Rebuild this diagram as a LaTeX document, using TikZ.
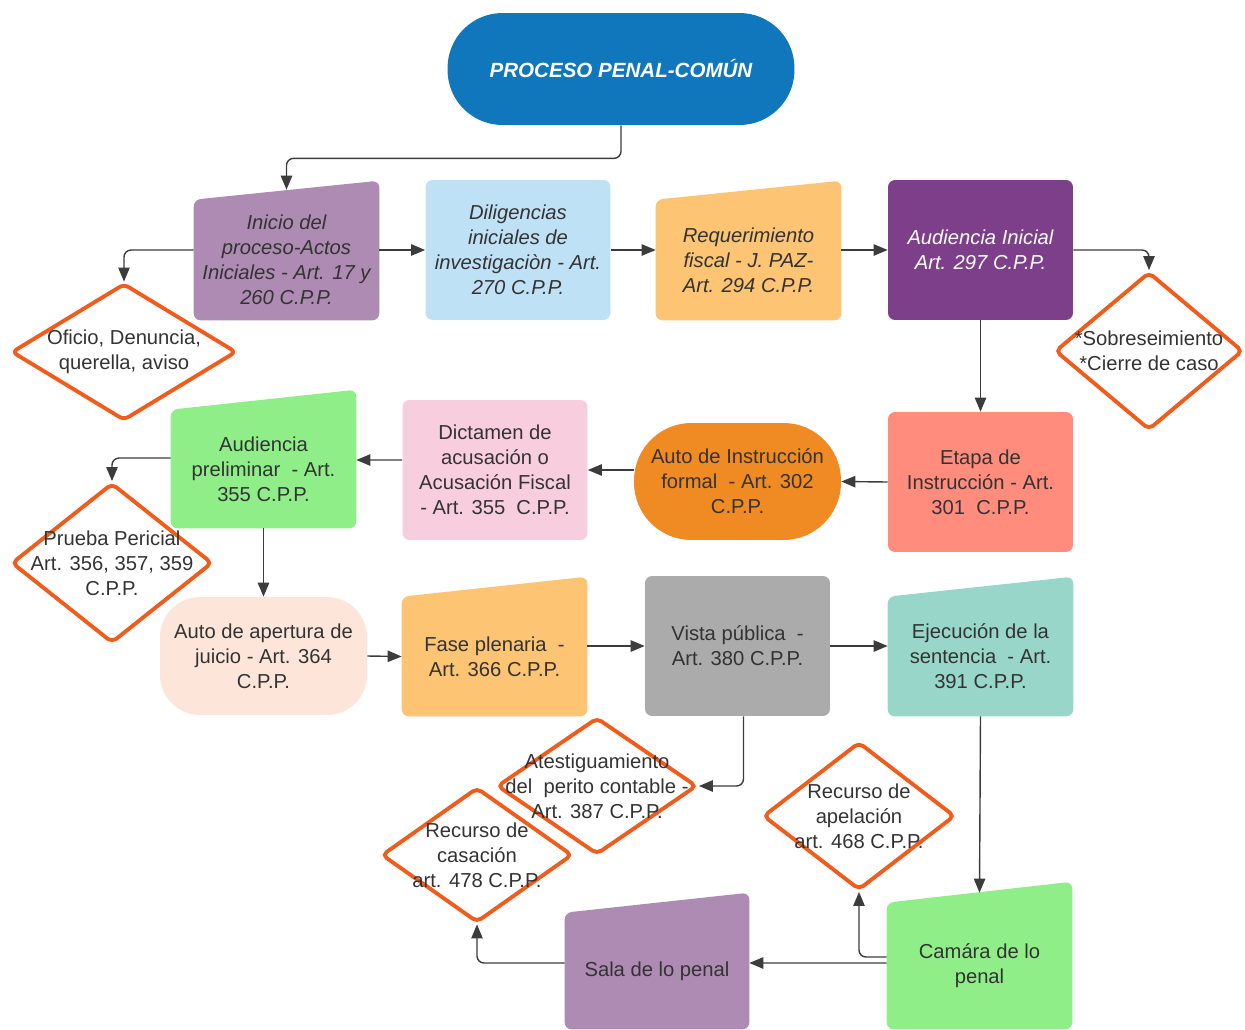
\documentclass[tikz,border=0pt]{standalone}
\usepackage{fontspec}
\setmainfont{Liberation Sans}
\usetikzlibrary{shapes.geometric, arrows.meta, backgrounds}

\definecolor{titleblue}{RGB}{17,119,188}
\definecolor{mauve}{RGB}{173,139,178}
\definecolor{skyblue}{RGB}{191,225,245}
\definecolor{paleorange}{RGB}{252,196,115}
\definecolor{plum}{RGB}{126,63,138}
\definecolor{salmon}{RGB}{255,140,125}
\definecolor{deeporange}{RGB}{240,139,36}
\definecolor{dictpink}{RGB}{248,205,221}
\definecolor{lightgreen}{RGB}{144,238,137}
\definecolor{peach}{RGB}{253,230,217}
\definecolor{midgray}{RGB}{171,171,171}
\definecolor{seagreen}{RGB}{152,214,202}
\definecolor{diaorange}{RGB}{240,92,28}
\definecolor{textgray}{RGB}{51,51,51}
\definecolor{linegray}{RGB}{60,60,60}

\newcommand{\boxfont}{\fontsize{11.5}{14.2}\selectfont}
\newcommand{\slantfill}[3]{\fill[#2, rounded corners=4pt] (#1.south west) -- (#1.north west) -- ([yshift=#3]#1.north east) -- (#1.south east) -- cycle;}

\tikzstyle{line} = [draw=linegray, line width=0.8pt, rounded corners=4pt, -{Triangle[length=8pt,width=6.5pt]}]
\tikzstyle{title} = [rectangle, fill=titleblue, rounded corners=1.1cm, minimum width=6.94cm, minimum height=2.24cm, text=white, font=\fontsize{11.7}{14}\selectfont\bfseries\itshape]
\tikzstyle{box} = [rectangle, rounded corners=4pt, minimum width=3.7cm, minimum height=2.8cm, inner sep=0pt, align=center, text=textgray, font=\boxfont]
\tikzstyle{slanted} = [rectangle, minimum width=3.7cm, minimum height=2.4cm, inner sep=0pt, align=center, text=textgray, font=\boxfont]
\tikzstyle{italic} = [font=\boxfont\itshape]
\tikzstyle{choice} = [diamond, draw=diaorange, line width=2.2pt, rounded corners=3pt, inner sep=0pt]
\tikzstyle{choicetext} = [align=center, text=textgray, font=\boxfont]

\begin{document}
\begin{tikzpicture}[x=0.02cm, y=-0.02cm]
\useasboundingbox (0,0) rectangle (1245,1029);

\node [title] (title) at (621,69) {PROCESO PENAL-COMÚN};

% first row
\node [slanted, italic] (ini) at (286.5,260) {Inicio del\\ proceso-Actos\\ Iniciales - Art. 17 y\\ 260 C.P.P.};
\node [box, fill=skyblue, italic] (dil) at (518,250) {Diligencias\\ iniciales de\\ investigaciòn - Art.\\ 270 C.P.P.};
\node [slanted, italic] (req) at (748.5,260) {Requerimiento\\ fiscal - J. PAZ-\\ Art. 294 C.P.P.};
\node [box, fill=plum, italic, text=white] (audi) at (980.5,250) {Audiencia Inicial\\ Art. 297 C.P.P.};

% second row
\node [box, fill=salmon] (etapa) at (980.5,482) {Etapa de\\ Instrucción - Art.\\ 301~ C.P.P.};
\node [box, fill=deeporange, minimum width=4.14cm, minimum height=2.34cm, rounded corners=1.15cm] (autoi) at (737.5,481.5) {Auto de Instrucción\\ formal~ - Art. 302\\ C.P.P.};
\node [box, fill=dictpink] (dict) at (495,470) {Dictamen de\\ acusación o\\ Acusación Fiscal\\ - Art. 355~ C.P.P.};
\node [slanted, minimum height=2.36cm] (audp) at (263.5,469) {Audiencia\\ preliminar~ - Art.\\ 355 C.P.P.};

% third row
\node [box, fill=peach, minimum width=4.14cm, minimum height=2.36cm, rounded corners=0.8cm] (autoa) at (263.5,656) {Auto de apertura de\\ juicio - Art. 364\\ C.P.P.};
\node [slanted, minimum height=2.38cm] (fase) at (494.5,656.5) {Fase plenaria~ -\\ Art. 366 C.P.P.};
\node [box, fill=midgray] (vista) at (737.5,646) {Vista pública~ -\\ Art. 380 C.P.P.};
\node [slanted, minimum height=2.38cm] (ejec) at (980.5,656.5) {Ejecución de la\\ sentencia~ - Art.\\ 391 C.P.P.};

% last row
\node [slanted, minimum width=3.68cm, minimum height=2.32cm] (sala) at (657,971) {Sala de lo penal};
\node [slanted, minimum height=2.52cm] (cam) at (979.5,966) {Camára de lo\\ penal};

\begin{scope}[on background layer]
\slantfill{ini}{mauve}{0.38cm}
\slantfill{req}{paleorange}{0.38cm}
\slantfill{audp}{lightgreen}{0.4cm}
\slantfill{fase}{paleorange}{0.4cm}
\slantfill{ejec}{seagreen}{0.4cm}
\slantfill{sala}{mauve}{0.4cm}
\slantfill{cam}{lightgreen}{0.42cm}
\end{scope}

% decisions
\node [choice, minimum width=4.5cm, minimum height=2.74cm, label={[choicetext]center:{Oficio, Denuncia,\\ querella, aviso}}] (oficio) at (124,352) {};
\node [choice, minimum width=3.76cm, minimum height=3.16cm, label={[choicetext]center:{*Sobreseimiento\\ *Cierre de caso}}] (sobre) at (1149,351) {};
\node [choice, minimum width=4.02cm, minimum height=3.2cm, label={[choicetext]center:{Prueba Pericial\\ Art. 356, 357, 359\\ C.P.P.}}] (prueba) at (112,563) {};
\node [choice, minimum width=4cm, minimum height=2.74cm, label={[choicetext]center:{Atestiguamiento\\ del~ perito contable -\\ Art. 387 C.P.P.}}] (atest) at (597,786) {};
\node [choice, minimum width=3.82cm, minimum height=2.7cm, label={[choicetext]center:{Recurso de\\ casación\\ art. 478 C.P.P.}}] (casa) at (477,855) {};
\node [choice, minimum width=3.84cm, minimum height=2.96cm, label={[choicetext]center:{Recurso de\\ apelación\\ art. 468 C.P.P.}}] (apel) at (859,816) {};

\path [line] (title.south) -- ++(0,33) -| ([yshift=0.2cm]ini.north);
\path [line] ([yshift=0.2cm]ini.west) -| (oficio.north);
\path [line] (ini.east |- dil.west) -- (dil.west);
\path [line] (dil.east) -- (req.west |- dil.east);
\path [line] (req.east |- audi.west) -- (audi.west);
\path [line] (audi.east) -| (sobre.north);
\path [line] (audi.south) -- (etapa.north);

\path [line] (etapa.west) -- (autoi.east);
\path [line] (autoi.west |- dict.east) -- (dict.east);
\path [line] ([yshift=0.2cm]dict.west) -- ([yshift=0.18cm]audp.east);
\path [line] ([yshift=0.22cm]audp.west) -| (prueba.north);
\path [line] (audp.south) -- (autoa.north);

\path [line] (autoa.east) -- (fase.west);
\path [line] (fase.east |- vista.west) -- (vista.west);
\path [line] (vista.east) -- (vista.east -| ejec.west);
\path [line] ([xshift=0.12cm]vista.south) |- (atest.east);
\path [line] (ejec.south) -- ([yshift=0.2cm]cam.north);

\path [line] ([yshift=0.06cm]cam.west) -- ([yshift=0.16cm]sala.east);
\path [line] ([yshift=0.18cm]cam.west) -| (apel.south);
\path [line] ([yshift=0.16cm]sala.west) -| (casa.south);

\end{tikzpicture}
\end{document}
